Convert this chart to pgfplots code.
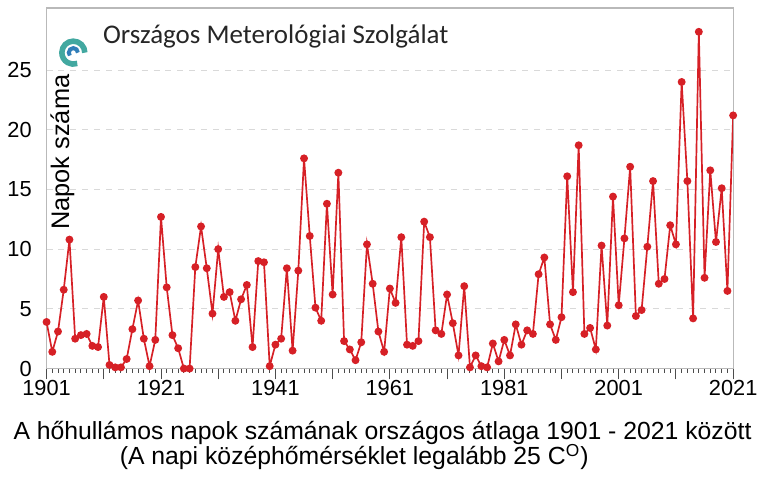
\documentclass[border=0pt]{standalone}
\usepackage{fontspec}
\setmainfont{Liberation Sans}
\newfontfamily\calib{Carlito}
\usepackage{pgfplots}
\pgfplotsset{compat=1.18}
\definecolor{omszred}{RGB}{214,32,38}
\definecolor{omszteal}{RGB}{66,168,160}

% hőhullámos napok száma, országos átlag
\pgfplotstableread{
year days
1901 3.9
1902 1.4
1903 3.1
1904 6.6
1905 10.8
1906 2.5
1907 2.8
1908 2.9
1909 1.9
1910 1.8
1911 6.0
1912 0.3
1913 0.1
1914 0.1
1915 0.8
1916 3.3
1917 5.7
1918 2.5
1919 0.2
1920 2.4
1921 12.7
1922 6.8
1923 2.8
1924 1.7
1925 0.0
1926 0.0
1927 8.5
1928 11.9
1929 8.4
1930 4.6
1931 10.0
1932 6.0
1933 6.4
1934 4.0
1935 5.8
1936 7.0
1937 1.8
1938 9.0
1939 8.9
1940 0.2
1941 2.0
1942 2.5
1943 8.4
1944 1.5
1945 8.2
1946 17.6
1947 11.1
1948 5.1
1949 4.0
1950 13.8
1951 6.2
1952 16.4
1953 2.3
1954 1.6
1955 0.7
1956 2.2
1957 10.4
1958 7.1
1959 3.1
1960 1.4
1961 6.7
1962 5.5
1963 11.0
1964 2.0
1965 1.9
1966 2.3
1967 12.3
1968 11.0
1969 3.2
1970 2.9
1971 6.2
1972 3.8
1973 1.1
1974 6.9
1975 0.1
1976 1.1
1977 0.2
1978 0.1
1979 2.1
1980 0.6
1981 2.4
1982 1.1
1983 3.7
1984 2.0
1985 3.2
1986 2.9
1987 7.9
1988 9.3
1989 3.7
1990 2.4
1991 4.3
1992 16.1
1993 6.4
1994 18.7
1995 2.9
1996 3.4
1997 1.6
1998 10.3
1999 3.6
2000 14.4
2001 5.3
2002 10.9
2003 16.9
2004 4.4
2005 4.9
2006 10.2
2007 15.7
2008 7.1
2009 7.5
2010 12.0
2011 10.4
2012 24.0
2013 15.7
2014 4.2
2015 28.2
2016 7.6
2017 16.6
2018 10.6
2019 15.1
2020 6.5
2021 21.2
}\heatdays

\begin{document}
\begin{tikzpicture}
\begin{axis}[
  scale only axis,
  width=346.5pt, height=182pt,
  xmin=1901, xmax=2021,
  ymin=0, ymax=30.2,
  xtick={1901,1911,...,2021},
  xticklabels={1901,,1921,,1941,,1961,,1981,,2001,,2021},
  minor x tick num=9,
  ytick={0,5,...,25},
  xtick pos=bottom, ytick pos=left,
  tick align=outside,
  major tick length=5.5pt,
  minor tick length=2pt,
  xtick style={draw=gray!60!black, line width=0.5pt},
  minor tick style={draw=gray!70},
  ytick style={draw=none},
  ymajorgrids,
  grid style={dashed, draw=gray!30, line width=0.5pt},
  axis line style={draw=gray!55, line width=0.6pt},
  ticklabel style={font=\fontsize{11}{13}\selectfont},
  xticklabel style={yshift=3pt},
  yticklabel style={xshift=1.5pt},
  /pgf/number format/assume math mode=true,
  /pgf/number format/1000 sep={},
]
\addplot[color=omszred, line width=0.85pt, mark=*, mark size=1.55pt,
         mark options={fill=omszred}] table[x=year, y=days] {\heatdays};

\coordinate (logo) at (rel axis cs:0.039,0.876);
\node[anchor=west, text=black!85,
      font=\calib\fontsize{13.6}{15}\selectfont]
  at (rel axis cs:0.072,0.920) {Országos Meterológiai Szolgálat};
\node[rotate=90, font=\fontsize{12.8}{15}\selectfont]
  at (rel axis cs:0.023,0.600) {Napok száma};
\end{axis}

% logo
\draw[omszteal, line width=2.8pt] ([xshift=5.8pt]logo)
  arc[start angle=0, end angle=290, radius=5.8pt];
\draw[omszteal!75!blue, line width=2pt] ([xshift=2.3pt]logo)
  arc[start angle=0, end angle=220, radius=2.3pt];

\node[anchor=base, font=\fontsize{12.5}{14}\selectfont]
  at ([xshift=-3.7pt,yshift=-36pt]current axis.south)
  {A hőhullámos napok számának országos átlaga 1901 - 2021 között};
\node[anchor=base, font=\fontsize{12.5}{14}\selectfont]
  at ([xshift=-18pt,yshift=-48.5pt]current axis.south)
  {(A napi középhőmérséklet legalább 25 C\textsuperscript{O})};

\path ([shift={(-23.5pt,-51pt)}]current axis.south west)
  rectangle ([shift={(12pt,4pt)}]current axis.north east);
\end{tikzpicture}
\end{document}
